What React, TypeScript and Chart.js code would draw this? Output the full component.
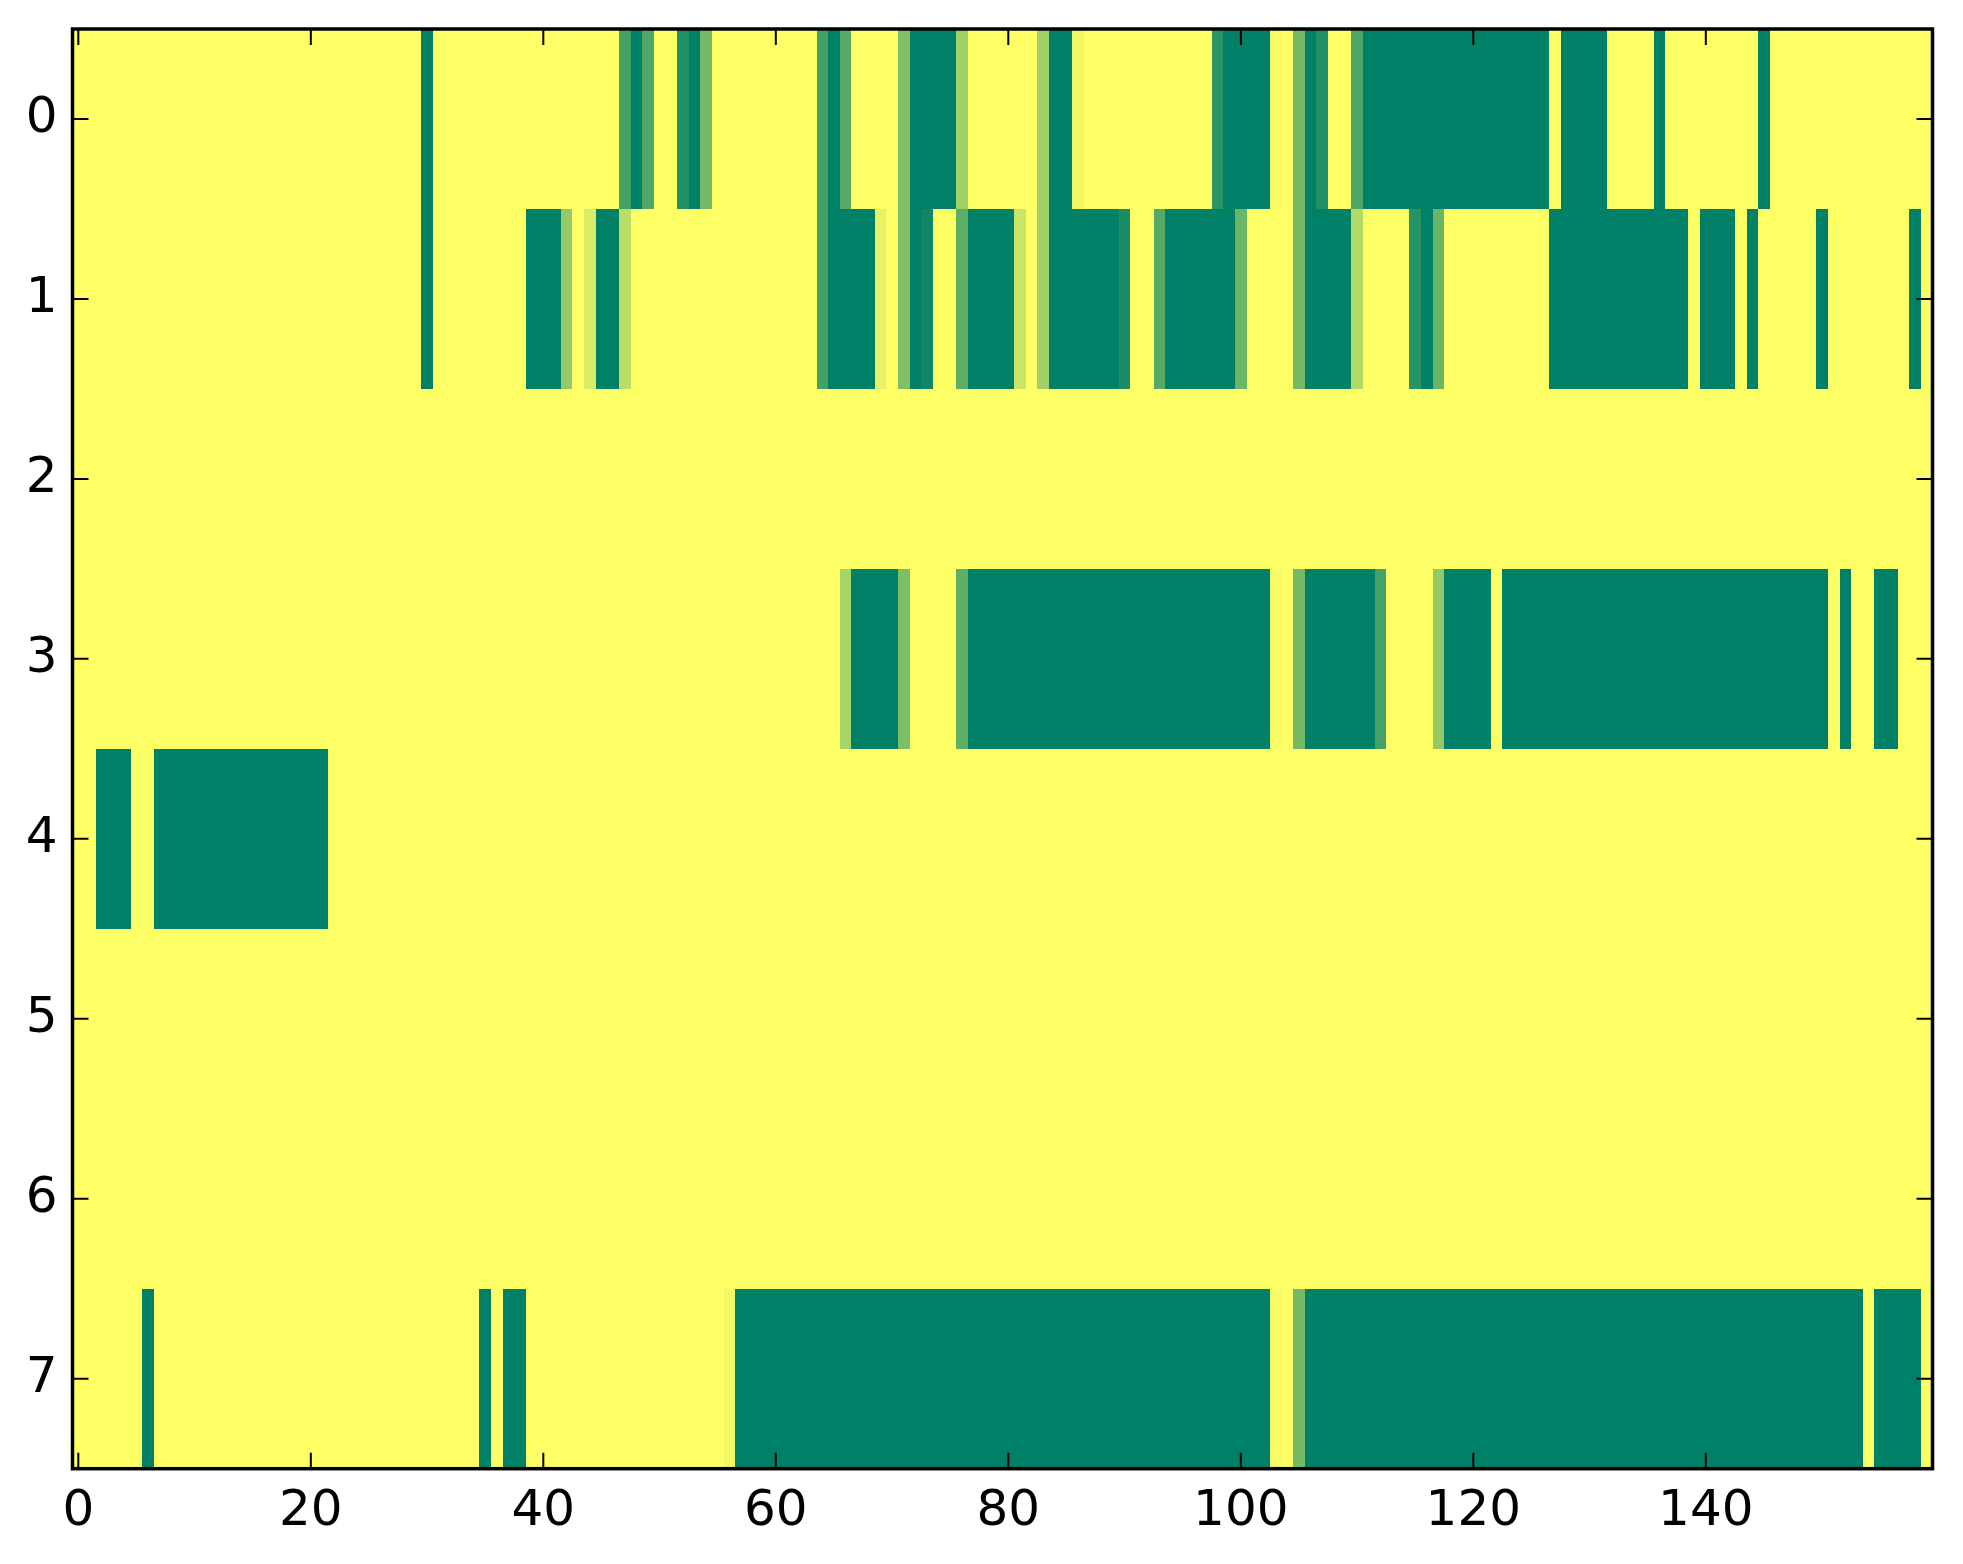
import React, { useEffect, useRef } from "react";
import { Chart, registerables } from "chart.js";

Chart.register(...registerables);

// Tick labels
const xTickValues = [0, 20, 40, 60, 80, 100, 120, 140];
const yTickValues = [0, 1, 2, 3, 4, 5, 6, 7];

// Cell values per row (0 = dark green, 1 = yellow), 160 columns each
const row0 = [
  1,1,1,1,1,1,1,1,1,1,1,1,1,1,1,1,1,1,1,1,
  1,1,1,1,1,1,1,1,1,1,0,1,1,1,1,1,1,1,1,1,
  1,1,1,1,1,1,1,0.27,0,0.31,1,1,0.12,0,0.45,1,1,1,1,1,
  1,1,1,1,0.26,0,0.34,1,1,1,1,0.5,0,0,0,0,0.63,1,1,1,
  1,1,1,0.63,0,0,0.94,1,1,1,1,1,1,1,1,1,1,1,0.17,0,
  0,0,0,0.97,1,0.45,0,0.13,1,1,0.31,0,0,0,0,0,0,0,0,0,
  0,0,0,0,0,0,0,1,0,0,0,0,1,1,1,1,0,1,1,1,
  1,1,1,1,1,0,1,1,1,1,1,1,1,1,1,1,1,1,1,1,
];
const row1 = [
  1,1,1,1,1,1,1,1,1,1,1,1,1,1,1,1,1,1,1,1,
  1,1,1,1,1,1,1,1,1,1,0,1,1,1,1,1,1,1,1,0,
  0,0,0.58,1,0.85,0,0,0.73,1,1,1,1,1,1,1,1,1,1,1,1,
  1,1,1,1,0.26,0,0,0,0,0.9,1,0.5,0,0.06,1,1,0.36,0,0,0,
  0,0.79,1,0.63,0,0,0,0,0,0,0.1,1,1,0.33,0,0,0,0,0,0,
  0.42,1,1,1,1,0.45,0,0,0,0,0.7,1,1,1,1,0.15,0,0.42,1,1,
  1,1,1,1,1,1,1,0,0,0,0,0,0,0,0,0,0,0,0,1,
  0,0,0,1,0,1,1,1,1,1,0,1,1,1,1,1,1,1,0,1,
];
const row2 = [
  1,1,1,1,1,1,1,1,1,1,1,1,1,1,1,1,1,1,1,1,
  1,1,1,1,1,1,1,1,1,1,1,1,1,1,1,1,1,1,1,1,
  1,1,1,1,1,1,1,1,1,1,1,1,1,1,1,1,1,1,1,1,
  1,1,1,1,1,1,1,1,1,1,1,1,1,1,1,1,1,1,1,1,
  1,1,1,1,1,1,1,1,1,1,1,1,1,1,1,1,1,1,1,1,
  1,1,1,1,1,1,1,1,1,1,1,1,1,1,1,1,1,1,1,1,
  1,1,1,1,1,1,1,1,1,1,1,1,1,1,1,1,1,1,1,1,
  1,1,1,1,1,1,1,1,1,1,1,1,1,1,1,1,1,1,1,1,
];
const row3 = [
  1,1,1,1,1,1,1,1,1,1,1,1,1,1,1,1,1,1,1,1,
  1,1,1,1,1,1,1,1,1,1,1,1,1,1,1,1,1,1,1,1,
  1,1,1,1,1,1,1,1,1,1,1,1,1,1,1,1,1,1,1,1,
  1,1,1,1,1,1,0.66,0,0,0,0,0.49,1,1,1,1,0.37,0,0,0,
  0,0,0,0,0,0,0,0,0,0,0,0,0,0,0,0,0,0,0,0,
  0,0,0,0.97,1,0.45,0,0,0,0,0,0,0.27,1,1,1,1,0.58,0,0,
  0,0,1,0,0,0,0,0,0,0,0,0,0,0,0,0,0,0,0,0,
  0,0,0,0,0,0,0,0,0,0,0,1,0,1,1,0,0,1,1,1,
];
const row4 = [
  1,1,0,0,0,1,1,0,0,0,0,0,0,0,0,0,0,0,0,0,
  0,0,1,1,1,1,1,1,1,1,1,1,1,1,1,1,1,1,1,1,
  1,1,1,1,1,1,1,1,1,1,1,1,1,1,1,1,1,1,1,1,
  1,1,1,1,1,1,1,1,1,1,1,1,1,1,1,1,1,1,1,1,
  1,1,1,1,1,1,1,1,1,1,1,1,1,1,1,1,1,1,1,1,
  1,1,1,1,1,1,1,1,1,1,1,1,1,1,1,1,1,1,1,1,
  1,1,1,1,1,1,1,1,1,1,1,1,1,1,1,1,1,1,1,1,
  1,1,1,1,1,1,1,1,1,1,1,1,1,1,1,1,1,1,1,1,
];
const row5 = [
  1,1,1,1,1,1,1,1,1,1,1,1,1,1,1,1,1,1,1,1,
  1,1,1,1,1,1,1,1,1,1,1,1,1,1,1,1,1,1,1,1,
  1,1,1,1,1,1,1,1,1,1,1,1,1,1,1,1,1,1,1,1,
  1,1,1,1,1,1,1,1,1,1,1,1,1,1,1,1,1,1,1,1,
  1,1,1,1,1,1,1,1,1,1,1,1,1,1,1,1,1,1,1,1,
  1,1,1,1,1,1,1,1,1,1,1,1,1,1,1,1,1,1,1,1,
  1,1,1,1,1,1,1,1,1,1,1,1,1,1,1,1,1,1,1,1,
  1,1,1,1,1,1,1,1,1,1,1,1,1,1,1,1,1,1,1,1,
];
const row6 = [
  1,1,1,1,1,1,1,1,1,1,1,1,1,1,1,1,1,1,1,1,
  1,1,1,1,1,1,1,1,1,1,1,1,1,1,1,1,1,1,1,1,
  1,1,1,1,1,1,1,1,1,1,1,1,1,1,1,1,1,1,1,1,
  1,1,1,1,1,1,1,1,1,1,1,1,1,1,1,1,1,1,1,1,
  1,1,1,1,1,1,1,1,1,1,1,1,1,1,1,1,1,1,1,1,
  1,1,1,1,1,1,1,1,1,1,1,1,1,1,1,1,1,1,1,1,
  1,1,1,1,1,1,1,1,1,1,1,1,1,1,1,1,1,1,1,1,
  1,1,1,1,1,1,1,1,1,1,1,1,1,1,1,1,1,1,1,1,
];
const row7 = [
  1,1,1,1,1,1,0,1,1,1,1,1,1,1,1,1,1,1,1,1,
  1,1,1,1,1,1,1,1,1,1,1,1,1,1,1,0,1,0,0,1,
  1,1,1,1,1,1,1,1,1,1,1,1,1,1,1,1,0.95,0,0,0,
  0,0,0,0,0,0,0,0,0,0,0,0,0,0,0,0,0,0,0,0,
  0,0,0,0,0,0,0,0,0,0,0,0,0,0,0,0,0,0,0,0,
  0,0,0,0.97,1,0.46,0,0,0,0,0,0,0,0,0,0,0,0,0,0,
  0,0,0,0,0,0,0,0,0,0,0,0,0,0,0,0,0,0,0,0,
  0,0,0,0,0,0,0,0,0,0,0,0,0,0,1,0,0,0,0,1,
];

const rows = [row0, row1, row2, row3, row4, row5, row6, row7];

const W = 1963;
const H = 1564;

// matplotlib "summer" colormap
function summer(v: number): string {
  const r = Math.round(255 * v);
  const g = Math.round(255 * (0.5 + 0.5 * v));
  return `rgb(${r},${g},102)`;
}

const heatmapPlugin = {
  id: "heatmapCells",
  beforeDatasetsDraw(chart: any) {
    const { ctx } = chart;
    const xs = chart.scales.x;
    const ys = chart.scales.y;
    const data = chart.data.datasets[0].data as { x: number; y: number; v: number }[];
    ctx.save();
    for (const p of data) {
      const x0 = Math.round(xs.getPixelForValue(p.x - 0.5));
      const x1 = Math.round(xs.getPixelForValue(p.x + 0.5));
      const y0 = Math.round(ys.getPixelForValue(p.y - 0.5));
      const y1 = Math.round(ys.getPixelForValue(p.y + 0.5));
      ctx.fillStyle = summer(p.v);
      ctx.fillRect(Math.min(x0, x1), Math.min(y0, y1), Math.abs(x1 - x0), Math.abs(y1 - y0));
    }
    ctx.restore();
  },
};

const framePlugin = {
  id: "mplFrame",
  afterDraw(chart: any) {
    const { ctx, chartArea: a } = chart;
    const xs = chart.scales.x;
    const ys = chart.scales.y;
    const L = 16;
    ctx.save();
    ctx.strokeStyle = "#000";
    ctx.lineWidth = 2;
    ctx.beginPath();
    for (const v of xTickValues) {
      const px = xs.getPixelForValue(v);
      ctx.moveTo(px, a.bottom);
      ctx.lineTo(px, a.bottom - L);
      ctx.moveTo(px, a.top);
      ctx.lineTo(px, a.top + L);
    }
    for (const v of yTickValues) {
      const py = ys.getPixelForValue(v);
      ctx.moveTo(a.left, py);
      ctx.lineTo(a.left + L, py);
      ctx.moveTo(a.right, py);
      ctx.lineTo(a.right - L, py);
    }
    ctx.stroke();
    ctx.lineWidth = 3.5;
    ctx.strokeRect(a.left, a.top, a.right - a.left, a.bottom - a.top);
    ctx.restore();
  },
};

export default function App() {
  const ref = useRef<HTMLCanvasElement>(null);

  useEffect(() => {
    document.body.style.margin = "0";
    const cells: { x: number; y: number; v: number }[] = [];
    rows.forEach((row, r) => {
      row.forEach((v, c) => cells.push({ x: c, y: r, v }));
    });
    const tickFont = { family: "'DejaVu Sans', sans-serif", size: 50 };
    const chart = new Chart(ref.current as HTMLCanvasElement, {
      type: "scatter",
      data: {
        datasets: [
          {
            data: cells as any,
            pointRadius: 0,
            pointHoverRadius: 0,
          },
        ],
      },
      options: {
        animation: false,
        responsive: false,
        devicePixelRatio: 1,
        events: [],
        layout: { padding: { left: 0, top: 29, right: 30.5, bottom: 0 } },
        plugins: { legend: { display: false }, tooltip: { enabled: false } },
        scales: {
          x: {
            type: "linear",
            position: "bottom",
            min: -0.5,
            max: 159.5,
            grid: { display: false, drawTicks: false },
            border: { display: false },
            ticks: { font: tickFont, color: "#000", padding: 13, maxRotation: 0, autoSkip: false },
            afterBuildTicks: (s: any) => {
              s.ticks = xTickValues.map((v) => ({ value: v }));
            },
            afterFit: (s: any) => {
              s.height = 95.3;
              s.paddingLeft = 0;
              s.paddingRight = 0;
              s.paddingTop = 0;
              s.paddingBottom = 0;
            },
          },
          y: {
            type: "linear",
            position: "left",
            min: -0.5,
            max: 7.5,
            reverse: true,
            grid: { display: false, drawTicks: false },
            border: { display: false },
            ticks: { font: tickFont, color: "#000", padding: 15, autoSkip: false },
            afterBuildTicks: (s: any) => {
              s.ticks = yTickValues.map((v) => ({ value: v }));
            },
            afterFit: (s: any) => {
              s.width = 72.5;
              s.paddingLeft = 0;
              s.paddingRight = 0;
              s.paddingTop = 0;
              s.paddingBottom = 0;
            },
          },
        },
      },
      plugins: [heatmapPlugin, framePlugin],
    });
    return () => chart.destroy();
  }, []);

  return (
    <div style={{ position: "absolute", left: 0, top: 0, width: W, height: H, background: "#fff" }}>
      <canvas ref={ref} width={W} height={H} style={{ width: W, height: H, display: "block" }} />
    </div>
  );
}
